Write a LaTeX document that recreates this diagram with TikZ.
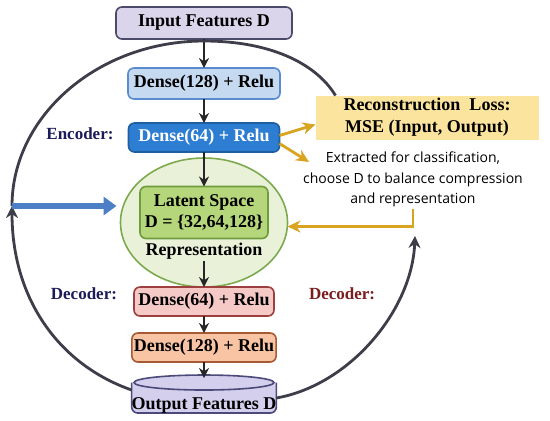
\documentclass[tikz,border=0pt]{standalone}
\usepackage{fontspec}
\setmainfont{Liberation Serif}
\newfontfamily\notefont{Open Sans}
\usepackage{xcolor}
\usepackage{tikz}
\usetikzlibrary{arrows.meta,positioning,shapes.geometric,backgrounds}

\definecolor{inpfill}{HTML}{DAD5EB}
\definecolor{inpdraw}{HTML}{4B4A6B}
\definecolor{encafill}{HTML}{C5D9F1}
\definecolor{encadraw}{HTML}{5B8BCF}
\definecolor{encbfill}{HTML}{2D7DD2}
\definecolor{encbdraw}{HTML}{1F5FA0}
\definecolor{ellfill}{HTML}{E9F2D9}
\definecolor{elldraw}{HTML}{7DAA4E}
\definecolor{latfill}{HTML}{B5D67B}
\definecolor{latdraw}{HTML}{6F9C3C}
\definecolor{decafill}{HTML}{F5C9C6}
\definecolor{decadraw}{HTML}{9E3F3F}
\definecolor{decbfill}{HTML}{F8C4A3}
\definecolor{decbdraw}{HTML}{A65B35}
\definecolor{outfill}{HTML}{D3CFEC}
\definecolor{outdraw}{HTML}{4B4A7A}
\definecolor{reconfill}{HTML}{FBE49E}
\definecolor{gold}{HTML}{D9A520}
\definecolor{bluearrow}{HTML}{4C7FC6}
\definecolor{loopgray}{HTML}{3E3E4A}
\definecolor{navy}{HTML}{1C1C5A}
\definecolor{darkred}{HTML}{7B1E1E}

\begin{document}
\begin{tikzpicture}[
  x=0.5pt, y=-0.5pt,
  box/.style={draw, rounded corners=3pt, align=center, line width=0.8pt, inner sep=1pt, outer sep=0pt,
    font=\bfseries\fontsize{9}{10.5}\selectfont},
  lbl/.style={font=\bfseries\fontsize{8.5}{10}\selectfont, inner sep=0pt, outer sep=0pt},
  arr/.style={-{Stealth[length=5pt,width=5pt]}, line width=1.1pt, black!85},
  goldarr/.style={-{Stealth[length=6.5pt,width=6pt]}, line width=1.4pt, gold},
  bluearr/.style={-{Triangle[length=6.5pt,width=9pt]}, line width=3.2pt, bluearrow},
  looparr/.style={line width=1.4pt, loopgray}
]
\path[use as bounding box] (0,0) rectangle (550,420);

% encoder column
\node[box, fill=inpfill, draw=inpdraw, minimum width=88pt, minimum height=16pt] (input) at (204,23) {Input Features D};
\node[box, fill=encafill, draw=encadraw, minimum width=76pt, minimum height=15.5pt, below=14.5pt of input] (enc1) {Dense(128) + Relu};
\node[box, fill=encbfill, draw=encbdraw, text=white, minimum width=75.5pt, minimum height=14.5pt, below=12pt of enc1] (enc2) {Dense(64) + Relu};

% latent space
\node[ellipse, draw=elldraw, fill=ellfill, line width=0.8pt, outer sep=0pt, minimum width=83.5pt, minimum height=64.5pt, below=3pt of enc2] (latent) {};
\node[box, fill=latfill, draw=latdraw, minimum width=64pt, minimum height=26pt] (lspace) at ([yshift=5pt]latent.center) {Latent Space\\D = \{32,64,128\}};
\node[lbl, font=\bfseries\fontsize{9}{10.5}\selectfont, inner sep=1pt, below=1pt of lspace] (rep) {Representation};

% decoder column
\node[box, fill=decafill, draw=decadraw, minimum width=70pt, minimum height=14.5pt, below=0pt of latent] (dec1) {Dense(64) + Relu};
\node[box, fill=decbfill, draw=decbdraw, minimum width=68.5pt, minimum height=14.5pt, below=8.5pt of dec1] (dec2) {Dense(128) + Relu};
\node[font=\bfseries\fontsize{9}{10.5}\selectfont, minimum width=70pt, inner sep=0pt, outer sep=0pt, text height=17pt, text depth=2pt, below=6.5pt of dec2] (out) {Output Features D};
\begin{scope}[on background layer]
  \fill[white] (0,0) rectangle (550,420);
  \draw[fill=outfill, draw=outdraw, line width=0.8pt, rounded corners=3pt]
    ([yshift=-3.75pt]out.north west) -- (out.south west) -- (out.south east) -- ([yshift=-3.75pt]out.north east);
  \draw[fill=outfill, draw=outdraw, line width=0.8pt] ([yshift=-3.75pt]out.north) ellipse [x radius=70, y radius=7.5];
\end{scope}

% side labels
\node[lbl, text=navy, left=7.5pt of enc2, yshift=2pt] (enclbl) {Encoder:};
\node[lbl, text=navy, left=8.5pt of dec1, yshift=4pt] (declbl) {Decoder:};
\node[lbl, text=darkred, right=17.5pt of dec1, yshift=4pt] (declblr) {Decoder:};

% loss and note
\node[fill=reconfill, align=center, minimum width=111.5pt, minimum height=22pt, inner sep=1pt, outer sep=0pt,
  font=\bfseries\fontsize{9}{11}\selectfont, right=18pt of enc2, yshift=10pt] (recon) {Reconstruction\ \ Loss:\\MSE (Input, Output)};
\node[align=center, inner sep=1pt, font=\notefont\fontsize{7}{10.25}\selectfont, below=5pt of recon, xshift=-7pt] (note)
  {Extracted for classification,\\choose D to balance compression\\and representation};

\coordinate (lmid) at (12,206);
\coordinate (rtip) at (415,236);
\coordinate (gtip) at (309,162);

\draw[arr] (input) -- (enc1);
\draw[arr] (enc1) -- (enc2);
\draw[arr] (enc2) -- (lspace);
\draw[arr] (rep) -- (dec1);
\draw[arr] (dec1) -- (dec2);
\draw[arr] (dec2) -- ([yshift=-1.5pt]out.north);

\draw[goldarr] ([yshift=1pt]enc2.east) -- ([yshift=-3.5pt]recon.west);
\draw[goldarr] ([yshift=-3pt]enc2.east) -- (gtip);
\draw[goldarr] (note.south) |- ([yshift=-2pt]latent.east);

% outer loop
\draw[looparr, -{Stealth[length=6pt,width=6pt]}] ([yshift=2pt]out.west) .. controls (60,365) and (12,300) .. (lmid);
\draw[looparr] (lmid) .. controls (12,116) and (98,41) .. (204,41) .. controls (268,41) and (315,62) .. ([xshift=10pt]recon.north west);
\draw[looparr, -{Stealth[length=6pt,width=6pt]}] ([yshift=-2pt]out.east) .. controls (350,385) and (412,310) .. (rtip);
\draw[bluearr, shorten >=2pt] (lmid) -- (lmid -| latent.west);
\end{tikzpicture}
\end{document}
